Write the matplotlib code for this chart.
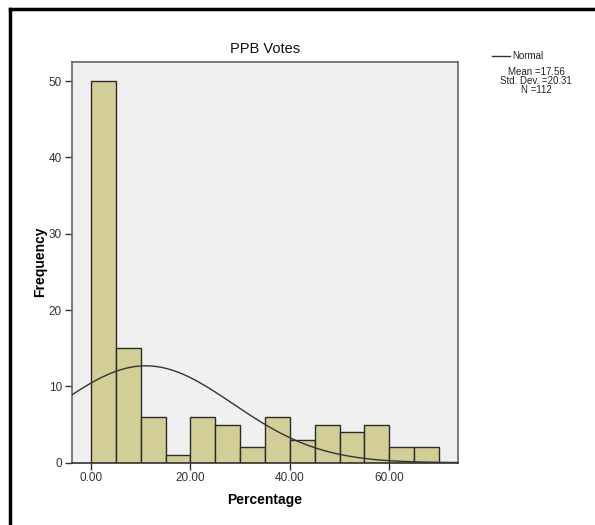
import numpy as np
import matplotlib
matplotlib.use('Agg')
import matplotlib.pyplot as plt
from matplotlib.lines import Line2D

# histogram bins (width 5) and counts
bin_edges = [0, 5, 10, 15, 20, 25, 30, 35, 40, 45, 50, 55, 60, 65, 70]
counts = [50, 15, 6, 1, 6, 5, 2, 6, 3, 5, 4, 5, 2, 2]
x_ticks = [0, 20, 40, 60]
y_ticks = [0, 10, 20, 30, 40, 50]

# normal curve as drawn (peak ~12.7 near x~11)
curve_mean = 11.0
curve_sd = 17.6
n_total = 112
stats_lines = ["Mean =17.56", "Std. Dev. =20.31", "N =112"]

plt.rcParams['font.family'] = ['Liberation Sans', 'DejaVu Sans']

fig = plt.figure(figsize=(5.95, 5.25), dpi=100)
ax = fig.add_axes([0.1205, 0.1187, 0.649, 0.7638])
ax.set_facecolor('#f0f0f0')

widths = np.diff(bin_edges)
ax.bar(bin_edges[:-1], counts, width=widths, align='edge',
       color='#d3ce97', edgecolor='#2b2b2b', linewidth=1.0, zorder=2)

xmin, xmax = -3.9, 73.8
xs = np.linspace(xmin, xmax, 400)
bw = widths[0]
ys = n_total * bw / (curve_sd * np.sqrt(2 * np.pi)) * np.exp(-(xs - curve_mean) ** 2 / (2 * curve_sd ** 2))
ax.plot(xs, ys, color='#333333', linewidth=1.0, zorder=3)

ax.set_xlim(xmin, xmax)
ax.set_ylim(0, 52.55)
ax.set_xticks(x_ticks)
ax.set_xticklabels(["%.2f" % v for v in x_ticks])
ax.set_yticks(y_ticks)
ax.tick_params(direction='out', length=5, width=1, color='#333333',
               labelsize=8.5, labelcolor='#333333', pad=2)
for s in ax.spines.values():
    s.set_color('#666666')
    s.set_linewidth(1.2)
ax.spines['bottom'].set_color('#333333')

ax.set_title('PPB Votes', fontsize=10.5, pad=6, color='#111111')
ax.set_xlabel('Percentage', fontsize=10, fontweight='bold', labelpad=6)
ax.set_ylabel('Frequency', fontsize=10, fontweight='bold', labelpad=1)

# legend block at the right
fig.add_artist(Line2D([492 / 595, 510 / 595], [1 - 56 / 525, 1 - 56 / 525],
                      color='#333333', linewidth=1.0))
fig.text(512 / 595, 1 - 56 / 525, 'Normal', fontsize=7, va='center', ha='left', color='#222222')
for i, t in enumerate(stats_lines):
    fig.text(536 / 595, 1 - (72 + i * 9) / 525, t, fontsize=7, va='center', ha='center',
             color='#222222')

# outer frame (top and left visible)
fig.add_artist(Line2D([9.5 / 595, 9.5 / 595], [0, 1 - 9 / 525], color='black', linewidth=2.5))
fig.add_artist(Line2D([9.5 / 595, 1], [1 - 9 / 525, 1 - 9 / 525], color='black', linewidth=2.5))

fig.savefig('out.png', dpi=100)
